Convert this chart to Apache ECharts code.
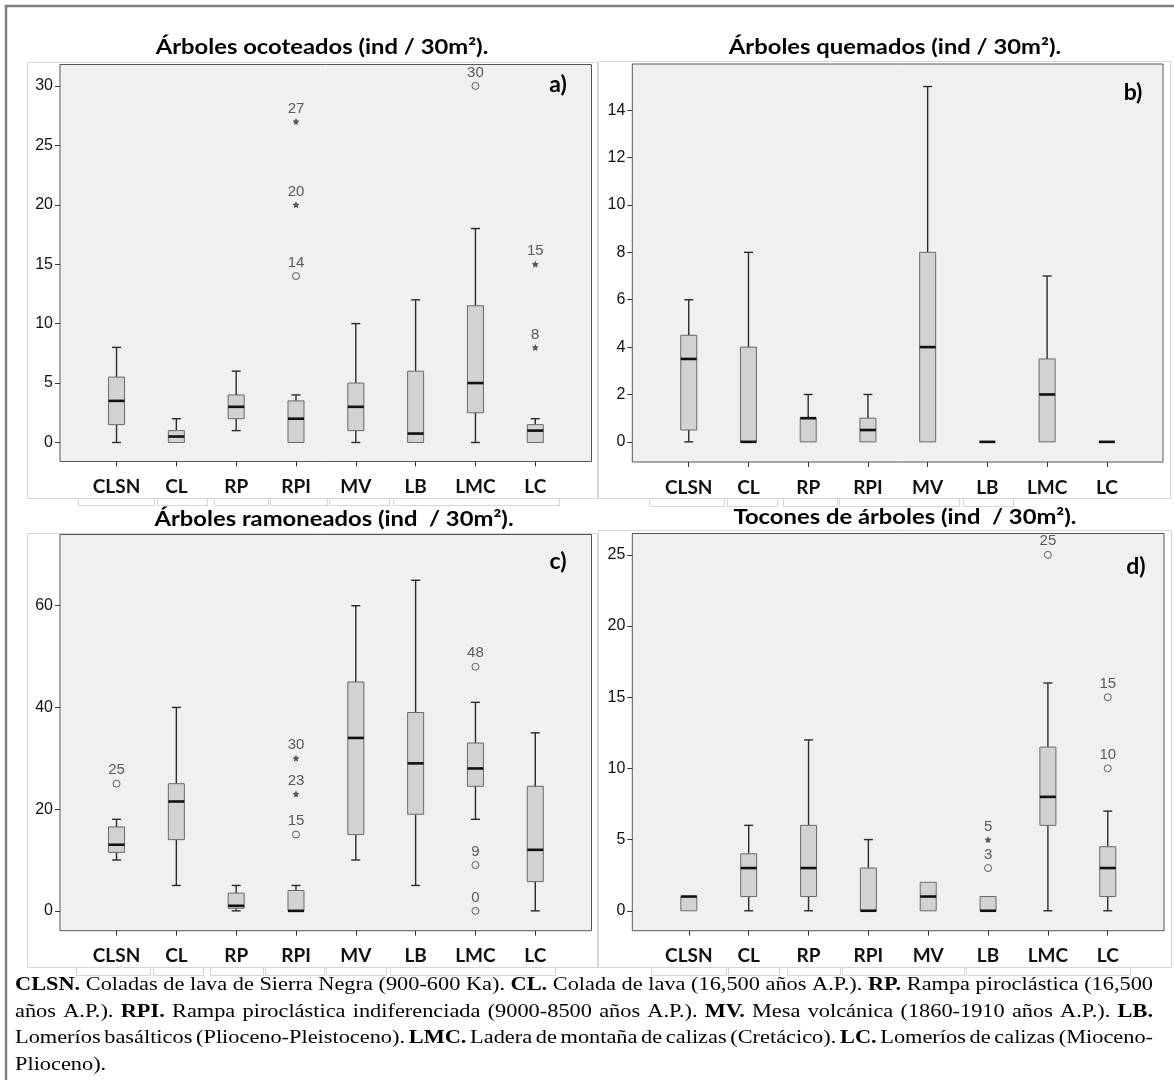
<!DOCTYPE html>
<html>
<head>
<meta charset="utf-8">
<script src="https://cdn.jsdelivr.net/npm/echarts@6/dist/echarts.min.js"></script>
<style>
  html, body { margin: 0; padding: 0; background: #ffffff; }
  #chart { width: 1174px; height: 1080px; }
</style>
</head>
<body>
<div id="chart"></div>
<script>
// Geomorphological zones (x categories)
const categories = ['CLSN', 'CL', 'RP', 'RPI', 'MV', 'LB', 'LMC', 'LC'];

// Five-number summaries per zone: [min, Q1, median, Q3, max]
const ocoteadosBoxes = [
  [0, 1.5, 3.5, 5.5, 8], [0, 0, 0.5, 1, 2], [1, 2, 3, 4, 6], [0, 0, 2, 3.5, 4],
  [0, 1, 3, 5, 10], [0, 0, 0.75, 6, 12], [0, 2.5, 5, 11.5, 18], [0, 0, 1, 1.5, 2]
];
// Outlying cases: [zone index, value, 'o' = outlier | '*' = extreme]
const ocoteadosOutliers = [[3, 14, 'o'], [3, 20, '*'], [3, 27, '*'], [6, 30, 'o'], [7, 15, '*'], [7, 8, '*']];
const ocoteadosTicks = [0, 5, 10, 15, 20, 25, 30];

const quemadosBoxes = [
  [0, 0.5, 3.5, 4.5, 6], [0, 0, 0, 4, 8], [0, 0, 1, 1, 2], [0, 0, 0.5, 1, 2],
  [0, 0, 4, 8, 15], [0, 0, 0, 0, 0], [0, 0, 2, 3.5, 7], [0, 0, 0, 0, 0]
];
const quemadosOutliers = [];
const quemadosTicks = [0, 2, 4, 6, 8, 10, 12, 14];

const ramoneadosBoxes = [
  [10, 11.5, 13, 16.5, 18], [5, 14, 21.5, 25, 40], [0, 0.5, 1, 3.5, 5], [0, 0, 0, 4, 5],
  [10, 15, 34, 45, 60], [5, 19, 29, 39, 65], [18, 24.5, 28, 33, 41], [0, 5.75, 12, 24.5, 35]
];
const ramoneadosOutliers = [[0, 25, 'o'], [3, 15, 'o'], [3, 23, '*'], [3, 30, '*'], [6, 48, 'o'], [6, 9, 'o'], [6, 0, 'o']];
const ramoneadosTicks = [0, 20, 40, 60];

const toconesBoxes = [
  [0, 0, 1, 1, 1], [0, 1, 3, 4, 6], [0, 1, 3, 6, 12], [0, 0, 0, 3, 5],
  [0, 0, 1, 2, 2], [0, 0, 0, 1, 1], [0, 6, 8, 11.5, 16], [0, 1, 3, 4.5, 7]
];
const toconesOutliers = [[5, 3, 'o'], [5, 5, '*'], [6, 25, 'o'], [7, 10, 'o'], [7, 15, 'o']];
const toconesTicks = [0, 5, 10, 15, 20, 25];

// Panel titles and tags
const panelTitles = [
  'Árboles ocoteados (ind / 30m²).',
  'Árboles quemados (ind / 30m²).',
  'Árboles ramoneados (ind  / 30m²).',
  'Tocones de árboles (ind  / 30m²).'
];
const panelTags = ['a)', 'b)', 'c)', 'd)'];

// Caption lines: [text, bold]
const captionLines = [
  [['CLSN.', true], [' Coladas de lava de Sierra Negra (900-600 Ka). ', false], ['CL.', true], [' Colada de lava (16,500 años A.P.). ', false], ['RP.', true], [' Rampa piroclástica (16,500', false]],
  [['años A.P.). ', false], ['RPI.', true], [' Rampa piroclástica indiferenciada (9000-8500 años A.P.). ', false], ['MV.', true], [' Mesa volcánica (1860-1910 años A.P.). ', false], ['LB.', true]],
  [['Lomeríos basálticos (Plioceno-Pleistoceno). ', false], ['LMC.', true], [' Ladera de montaña de calizas (Cretácico). ', false], ['LC.', true], [' Lomeríos de calizas (Mioceno-', false]],
  [['Plioceno).', false]]
];

// ---- layout ----
const panels = [
  { boxes: ocoteadosBoxes, outliers: ocoteadosOutliers, ticks: ocoteadosTicks,
    grid: { left: 60, top: 64.5, width: 531.5, height: 397 }, yMin: -1.6, yMax: 31.8,
    titlePos: [322, 48], tagPos: [558, 85] },
  { boxes: quemadosBoxes, outliers: quemadosOutliers, ticks: quemadosTicks,
    grid: { left: 632.3, top: 64, width: 530.7, height: 398 }, yMin: -0.85, yMax: 15.95,
    titlePos: [895, 48], tagPos: [1133, 93] },
  { boxes: ramoneadosBoxes, outliers: ramoneadosOutliers, ticks: ramoneadosTicks,
    grid: { left: 60, top: 534.5, width: 531.5, height: 396.2 }, yMin: -3.9, yMax: 74,
    titlePos: [334, 520], tagPos: [558, 562] },
  { boxes: toconesBoxes, outliers: toconesOutliers, ticks: toconesTicks,
    grid: { left: 632.3, top: 533.5, width: 531.7, height: 397.2 }, yMin: -1.4, yMax: 26.5,
    titlePos: [905, 518], tagPos: [1136, 567] }
];
const X_MIN = -0.945, X_MAX = 7.94;
const BOX_W = 16, CAP_W = 9;
const catIdx = categories.map((_, i) => i);
const STAR = 'path://M0,-10L2.9,-4L9.5,-3.1L4.7,1.5L5.9,8.1L0,5L-5.9,8.1L-4.7,1.5L-9.5,-3.1L-2.9,-4Z';

function renderBox(params, api) {
  const x = api.value(0);
  const vals = [1, 2, 3, 4, 5].map(d => api.value(d));
  const pts = vals.map(v => api.coord([x, v]));
  const cx = pts[0][0];
  const [yMin, yQ1, yMed, yQ3, yMax] = pts.map(p => p[1]);
  const wStyle = { stroke: '#2a2a2a', lineWidth: 1.4 };
  const children = [];
  if (vals[4] > vals[3]) {
    children.push({ type: 'line', shape: { x1: cx, y1: yQ3, x2: cx, y2: yMax }, style: wStyle });
    children.push({ type: 'line', shape: { x1: cx - CAP_W / 2, y1: yMax, x2: cx + CAP_W / 2, y2: yMax }, style: wStyle });
  }
  if (vals[1] > vals[0]) {
    children.push({ type: 'line', shape: { x1: cx, y1: yQ1, x2: cx, y2: yMin }, style: wStyle });
    children.push({ type: 'line', shape: { x1: cx - CAP_W / 2, y1: yMin, x2: cx + CAP_W / 2, y2: yMin }, style: wStyle });
  }
  if (vals[3] > vals[1]) {
    children.push({ type: 'rect', shape: { x: cx - BOX_W / 2, y: yQ3, width: BOX_W, height: yQ1 - yQ3 },
      style: { fill: '#d2d2d2', stroke: '#6a6a6a', lineWidth: 1 } });
  }
  children.push({ type: 'line', shape: { x1: cx - BOX_W / 2, y1: yMed, x2: cx + BOX_W / 2, y2: yMed },
    style: { stroke: '#111111', lineWidth: 2.6 } });
  return { type: 'group', children };
}

const option = {
  animation: false,
  backgroundColor: '#ffffff',
  grid: [], xAxis: [], yAxis: [], series: [], graphic: []
};

panels.forEach((p, i) => {
  option.grid.push(Object.assign({ show: true, backgroundColor: '#f0f0f0', borderColor: '#565656', borderWidth: 1 }, p.grid));
  option.xAxis.push({
    gridIndex: i, type: 'value', min: X_MIN, max: X_MAX, position: 'bottom',
    axisLine: { show: false, onZero: false }, splitLine: { show: false },
    axisTick: { show: true, customValues: catIdx, length: 5, lineStyle: { color: '#333', width: 1 } },
    axisLabel: { customValues: catIdx, formatter: v => categories[Math.round(v)], margin: 16,
      fontFamily: 'Lato', fontWeight: 'bold', fontSize: 19, color: '#111' }
  });
  option.yAxis.push({
    gridIndex: i, type: 'value', min: p.yMin, max: p.yMax, position: 'left',
    axisLine: { show: false, onZero: false }, splitLine: { show: false },
    axisTick: { show: true, customValues: p.ticks, length: 5, lineStyle: { color: '#333', width: 1 } },
    axisLabel: { customValues: p.ticks, margin: 7, fontFamily: 'Liberation Sans', fontSize: 16, color: '#111' }
  });
  option.series.push({
    type: 'custom', xAxisIndex: i, yAxisIndex: i,
    data: p.boxes.map((b, k) => [k].concat(b)),
    encode: { x: 0, y: [1, 2, 3, 4, 5] },
    renderItem: renderBox, z: 2
  });
  option.series.push({
    type: 'scatter', xAxisIndex: i, yAxisIndex: i,
    data: p.outliers.map(d => ({
      value: d,
      symbol: d[2] === '*' ? STAR : 'circle',
      itemStyle: d[2] === '*' ? { color: '#333', borderWidth: 0 } : { color: 'transparent', borderColor: '#3a3a3a', borderWidth: 1 }
    })),
    symbolSize: 7,
    label: { show: true, position: 'top', distance: 2, formatter: q => String(q.value[1]),
      fontFamily: 'Liberation Sans', fontSize: 15, color: '#333' },
    z: 3
  });
});

// panel frames with the table-cell notches beneath the zone labels
const FRAME_COLOR = '#d6d6d6';
const frames = [[27, 62, 570, 436], [598, 61, 572, 437], [27, 533, 570, 434], [598, 530, 573, 437]];
frames.forEach(f => option.graphic.push({
  type: 'rect', shape: { x: f[0] + 0.5, y: f[1] + 0.5, width: f[2], height: f[3] },
  style: { fill: 'none', stroke: FRAME_COLOR, lineWidth: 1 }, z: -1
}));
const notches = [
  { y0: 498.5, y1: 505.5, spans: [[78, 154], [157, 207], [214, 268], [270, 327], [329, 389], [393, 559]] },
  { y0: 498.5, y1: 506.5, spans: [[649, 724], [727, 777], [783, 837], [839, 959], [963, 1013]] },
  { y0: 967.5, y1: 975.5, spans: [[76, 150], [153, 203], [210, 263], [265, 324], [326, 386], [390, 555]] },
  { y0: 967.5, y1: 975.5, spans: [[651, 726], [728, 779], [787, 840], [842, 964], [966, 1130]] }
];
notches.forEach(n => n.spans.forEach(s => option.graphic.push({
  type: 'polyline', shape: { points: [[s[0] + 0.5, n.y0], [s[0] + 0.5, n.y1], [s[1] + 0.5, n.y1], [s[1] + 0.5, n.y0]] },
  style: { stroke: FRAME_COLOR, lineWidth: 1, fill: 'none' }, z: -1
})));

panels.forEach((p, i) => {
  option.graphic.push({
    type: 'text', x: p.titlePos[0], y: p.titlePos[1], scaleX: 1.19,
    style: { text: panelTitles[i], font: 'bold 20px Lato', fill: '#000', textAlign: 'center', textVerticalAlign: 'middle' }, z: 10
  });
  option.graphic.push({
    type: 'text', x: p.tagPos[0], y: p.tagPos[1],
    style: { text: panelTags[i], font: 'bold 23px Lato', fill: '#000', textAlign: 'center', textVerticalAlign: 'middle' }, z: 10
  });
});

// outer border (top and left)
option.graphic.push({
  type: 'polyline', shape: { points: [[6, 1080], [6, 6], [1174, 6]] },
  style: { stroke: '#7f7f7f', lineWidth: 2.5, fill: 'none' }, z: 10
});

// justified caption, stretched so the first line fills the measure
const CAP_LEFT = 15, CAP_RIGHT = 1153;
const CAP_Y = [985, 1012, 1038.5, 1065];
const CAP_SIZE = 19;
const fontReg = CAP_SIZE + 'px "Liberation Serif"';
const fontBold = 'bold ' + CAP_SIZE + 'px "Liberation Serif"';
const mctx = document.createElement('canvas').getContext('2d');
const capWords = captionLines.map(segs => {
  const words = [];
  segs.forEach(([t, b]) => t.split(' ').filter(Boolean).forEach(w => words.push({ w, b })));
  words.forEach(o => { mctx.font = o.b ? fontBold : fontReg; o.width = mctx.measureText(o.w).width; });
  return words;
});
mctx.font = fontReg;
const spaceW = mctx.measureText(' ').width;
const natural0 = capWords[0].reduce((s, o) => s + o.width, 0) + spaceW * (capWords[0].length - 1);
const capScale = (CAP_RIGHT - CAP_LEFT) / natural0;
capWords.forEach((words, li) => {
  const total = words.reduce((s, o) => s + o.width * capScale, 0);
  const justify = li < capWords.length - 1;
  const gap = justify ? (CAP_RIGHT - CAP_LEFT - total) / (words.length - 1) : spaceW * capScale;
  let x = CAP_LEFT;
  words.forEach(o => {
    option.graphic.push({
      type: 'text', x: x, y: CAP_Y[li], scaleX: capScale,
      style: { text: o.w, font: o.b ? fontBold : fontReg, fill: '#000', textAlign: 'left', textVerticalAlign: 'middle' }, z: 10
    });
    x += o.width * capScale + gap;
  });
});

const chart = echarts.init(document.getElementById('chart'), null, { renderer: 'canvas' });
chart.setOption(option);
</script>
</body>
</html>
